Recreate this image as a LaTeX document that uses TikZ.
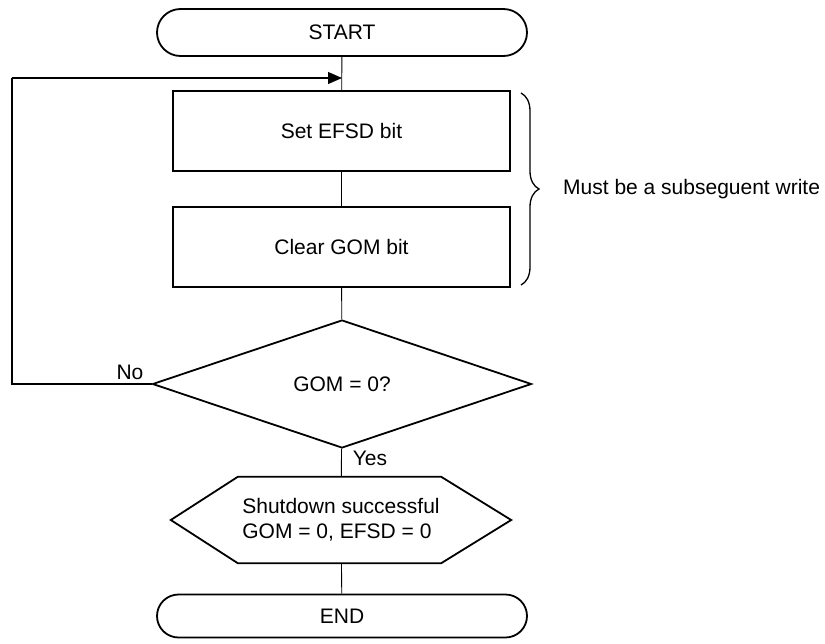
\documentclass[tikz,border=0pt]{standalone}
\usepackage{fontspec}
\setmainfont{Liberation Sans}
\usetikzlibrary{shapes.misc,shapes.geometric,arrows.meta,decorations.pathreplacing,calc}
\begin{document}
\begin{tikzpicture}[x=1pt,y=1pt,
  every node/.style={font=\fontsize{21}{25}\selectfont},
  term/.style={draw,rounded rectangle,line width=1.8pt,minimum width=370,inner sep=0},
  procbox/.style={draw,rectangle,line width=1.8pt,minimum width=337,minimum height=80,inner sep=0},
  decis/.style={draw,diamond,line width=1.8pt,minimum width=379,minimum height=128,inner sep=0},
  conn/.style={line width=0.9pt},
  lbl/.style={inner sep=0}]
\useasboundingbox (0,0) rectangle (825,-643);
\node[term,minimum height=47] (start) at (342,-32.5) {START};
\node[procbox] (set) at (341.5,-131) {Set EFSD bit};
\node[procbox] (clear) at (341.5,-247) {Clear GOM bit};
\node[decis] (dec) at (342,-384) {GOM = 0?};
\node[minimum width=340,minimum height=86,inner sep=0,align=left] (hex) at (341,-520)
  {Shutdown successful\\GOM = 0, EFSD = 0};
\draw[line width=1.8pt] (hex.west) -- ($(hex.north west)+(67,0)$) -- ($(hex.north east)+(-70,0)$)
  -- (hex.east) -- ($(hex.south east)+(-70,0)$) -- ($(hex.south west)+(67,0)$) -- cycle;
\node[term,minimum height=43] (end) at (342,-616) {END};
\coordinate (join) at (342,-78);
\coordinate (corner) at (12,-78);
\draw[conn] (start) -- (set);
\draw[conn] (set) -- (clear);
\draw[conn] (clear) -- (dec);
\draw[conn] (dec) -- (hex);
\draw[conn] (hex) -- (end);
\draw[conn,line width=1.2pt] (dec.west) -| (corner);
\draw[conn,line width=1.2pt,-{Triangle[length=14pt,width=12pt]}] (corner) -- (join);
\node[lbl] (no) at (130,-372) {No};
\node[lbl] (yes) at (370,-458) {Yes};
\coordinate (btop) at (521,-93);
\coordinate (bbot) at (521,-285);
\draw[line width=1.3pt,decorate,decoration={brace,amplitude=18pt}] (btop) -- (bbot);
\node[lbl,anchor=west] (note) at (563,-189) {Must be a subseguent write};
\end{tikzpicture}
\end{document}
